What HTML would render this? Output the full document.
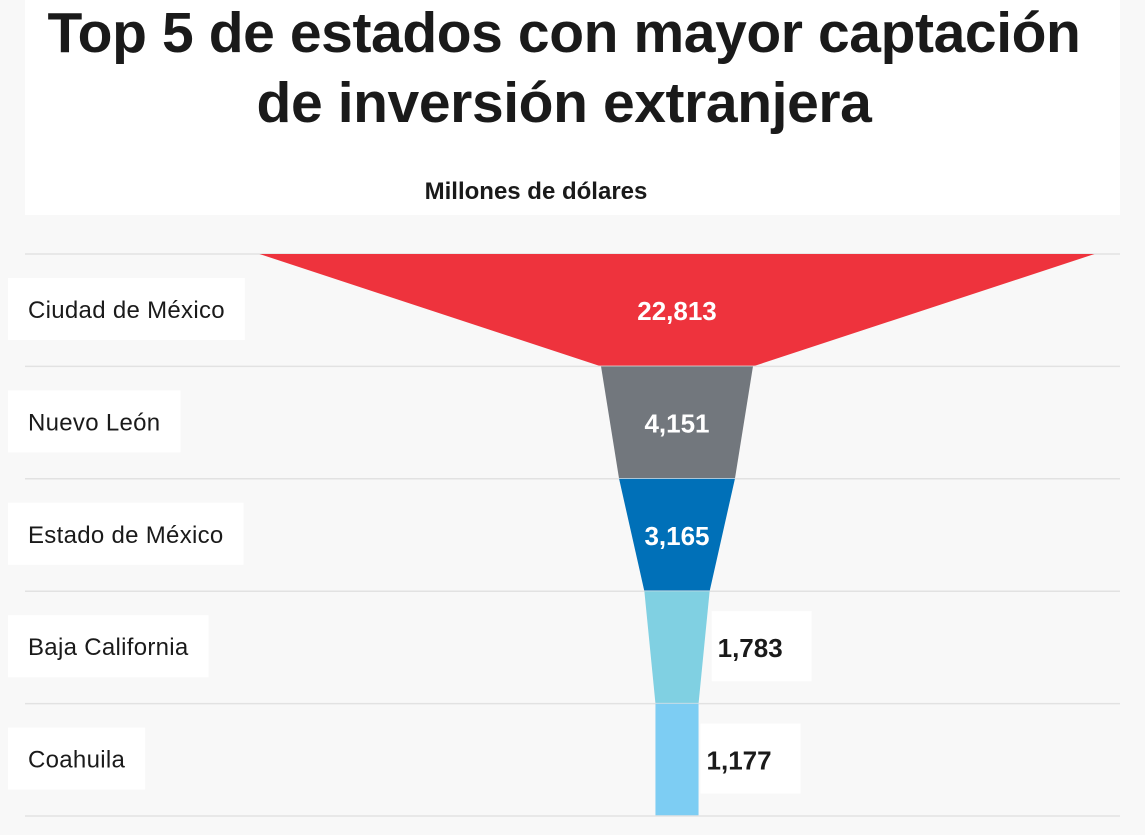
<!DOCTYPE html>
<html><head><meta charset="utf-8"><style>
html,body{margin:0;padding:0;background:#f8f8f8;}
body{width:1145px;height:835px;position:relative;overflow:hidden;font-family:"Liberation Sans",sans-serif;}
#titlebox{position:absolute;left:25px;top:0;width:1095px;height:215px;background:#fff;}
h1{position:absolute;left:0;top:-2px;width:1128px;margin:0;text-align:center;font-size:57px;line-height:70px;font-weight:bold;color:#1a1a1a;letter-spacing:-0.4px;}
#sub{position:absolute;left:0;top:178px;width:1072px;text-align:center;font-size:24px;font-weight:bold;color:#1a1a1a;}
svg{position:absolute;left:0;top:0;}
</style></head><body>
<div id="titlebox"></div>
<h1>Top 5 de estados con mayor captación<br>de inversión extranjera</h1>
<div id="sub">Millones de dólares</div>
<svg id="chart" width="1145" height="835"></svg>
<script>
const categories=["Ciudad de México","Nuevo León","Estado de México","Baja California","Coahuila"];
const values=[22813,4151,3165,1783,1177];
const valueLabels=["22,813","4,151","3,165","1,783","1,177"];
const colors=["#ee333d","#72777d","#0070b8","#80d0e2","#7dcdf3"];
const svg=document.getElementById('chart');
const NS="http://www.w3.org/2000/svg";
const top0=254,rowH=112.4,cx=677,maxW=835;
const w=v=>v/values[0]*maxW;
function mk(t,a){const e=document.createElementNS(NS,t);for(const k in a)e.setAttribute(k,a[k]);svg.appendChild(e);return e;}
for(let i=0;i<values.length;i++){
  const y0=top0+i*rowH,y1=y0+rowH;
  const wt=w(values[i]),wb=i<values.length-1?w(values[i+1]):wt;
  const bx=mk('rect',{x:8,y:y0+24,width:10,height:62,fill:'#fff'});
  
  
  const ln=mk('line',{x1:25,x2:1120,y1:y0,y2:y0,stroke:'#e2e2e2','stroke-width':1.5});
  
  
  const p=mk('polygon',{points:`${cx-wt/2},${y0} ${cx+wt/2},${y0} ${cx+wb/2},${y1} ${cx-wb/2},${y1}`,fill:colors[i]});
  
  
  const t=mk('text',{x:28,y:y0+64,'font-size':24,'letter-spacing':0.3,fill:'#1a1a1a','font-family':'Liberation Sans, sans-serif'});
  t.textContent=categories[i];
  
  
  bx.setAttribute('width',t.getComputedTextLength()+40);
  const inside=wt>100;
  let vx=cx,anchor='middle',fill='#fff';
  if(!inside){vx=cx+Math.max(wt,wb)/2+8;anchor='start';fill='#1a1a1a';
    const vb=mk('rect',{x:vx-6,y:y0+20,width:100,height:70,fill:'#fff'});
    
    }
  const v=mk('text',{x:vx,y:y0+66,'font-size':26,'font-weight':'bold',fill:fill,'text-anchor':anchor,'font-family':'Liberation Sans, sans-serif'});
  v.textContent=valueLabels[i];
  
  
}
const lb=mk('line',{x1:25,x2:1120,y1:top0+5*rowH,y2:top0+5*rowH,stroke:'#e2e2e2','stroke-width':1.5});


</script>
</body></html>
